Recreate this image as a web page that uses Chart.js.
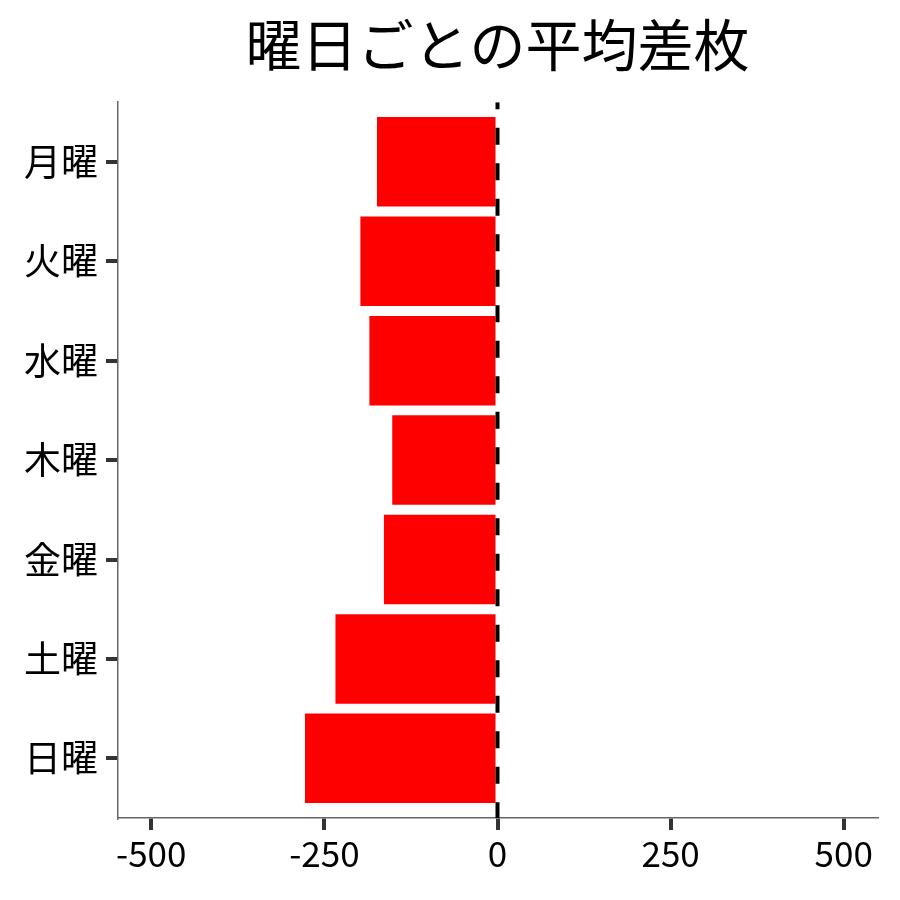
<!DOCTYPE html>
<html>
<head>
<meta charset="utf-8">
<script src="https://cdn.jsdelivr.net/npm/chart.js@4"></script>
<style>
  body { margin: 0; background: #fff; }
  #wrap { width: 900px; height: 900px; }
</style>
</head>
<body>
<div id="wrap"><canvas id="dayChart"></canvas></div>
<script>
const days = ['月曜', '火曜', '水曜', '木曜', '金曜', '土曜', '日曜'];
const avgDiff = [-174, -198, -185, -152, -164, -234, -278];
const xTicks = [-500, -250, 0, 250, 500];
const titleText = '曜日ごとの平均差枚';

const font = '"Noto Sans CJK JP", "Noto Sans", sans-serif';

// dashed zero line drawn over the bars
const zeroLine = {
    id: 'zeroLine',
    afterDatasetsDraw(chart) {
        const { ctx, chartArea, scales } = chart;
        const x = scales.x.getPixelForValue(0);
        ctx.save();
        ctx.beginPath();
        ctx.rect(chartArea.left, chartArea.top, chartArea.width, chartArea.height);
        ctx.clip();
        ctx.strokeStyle = '#000';
        ctx.lineWidth = 4;
        ctx.setLineDash([17, 18.5]);
        ctx.lineDashOffset = 10;
        ctx.beginPath();
        ctx.moveTo(x, chartArea.top);
        ctx.lineTo(x, chartArea.bottom);
        ctx.stroke();
        ctx.restore();
    }
};

// the built-in title only reserves space; text is centred over the panel here
const panelTitle = {
    id: 'panelTitle',
    afterDraw(chart) {
        const { ctx, chartArea } = chart;
        const t = chart.titleBlock;
        ctx.save();
        ctx.fillStyle = '#000';
        ctx.font = '56px ' + font;
        ctx.textAlign = 'center';
        ctx.textBaseline = 'middle';
        ctx.fillText(titleText, (chartArea.left + chartArea.right) / 2, t.top + 11 + 56 * 1.2 / 2);
        ctx.restore();
    }
};

new Chart(document.getElementById('dayChart'), {
    type: 'bar',
    data: {
        datasets: [{
            data: avgDiff.map((v, i) => ({ x: v, y: i })),
            backgroundColor: '#ff0000',
            borderWidth: 0,
            barPercentage: 0.9,
            categoryPercentage: 1
        }]
    },
    options: {
        indexAxis: 'y',
        responsive: true,
        maintainAspectRatio: false,
        animation: false,
        layout: { padding: { left: 0, right: 23, top: 0, bottom: 0 } },
        plugins: {
            legend: { display: false },
            tooltip: { enabled: false },
            title: {
                display: true,
                text: titleText,
                color: 'rgba(0,0,0,0)',
                font: { family: font, size: 56, weight: 'normal', lineHeight: 1.2 },
                padding: { top: 11, bottom: 24 }
            }
        },
        scales: {
            x: {
                type: 'linear',
                min: -548,
                max: 548,
                afterBuildTicks: s => { s.ticks = xTicks.map(v => ({ value: v })); },
                afterFit: s => { s.height = 82; },
                grid: { display: true, drawOnChartArea: false, drawTicks: true, tickLength: 12, lineWidth: 4, color: '#333' },
                border: { display: true, color: '#666', width: 1.5 },
                ticks: { color: '#000', padding: 3, maxRotation: 0, font: { family: font, size: 35 } }
            },
            y: {
                type: 'linear',
                reverse: true,
                offset: false,
                min: -0.6,
                max: 6.6,
                afterBuildTicks: s => { s.ticks = days.map((d, i) => ({ value: i })); },
                afterFit: s => { s.width = 118; },
                grid: { display: true, offset: false, drawOnChartArea: false, drawTicks: true, tickLength: 12, lineWidth: 4, color: '#333' },
                border: { display: true, color: '#666', width: 1.5 },
                ticks: { color: '#000', padding: 8, callback: v => days[v], font: { family: font, size: 37 } }
            }
        }
    },
    plugins: [zeroLine, panelTitle]
});
</script>
</body>
</html>
